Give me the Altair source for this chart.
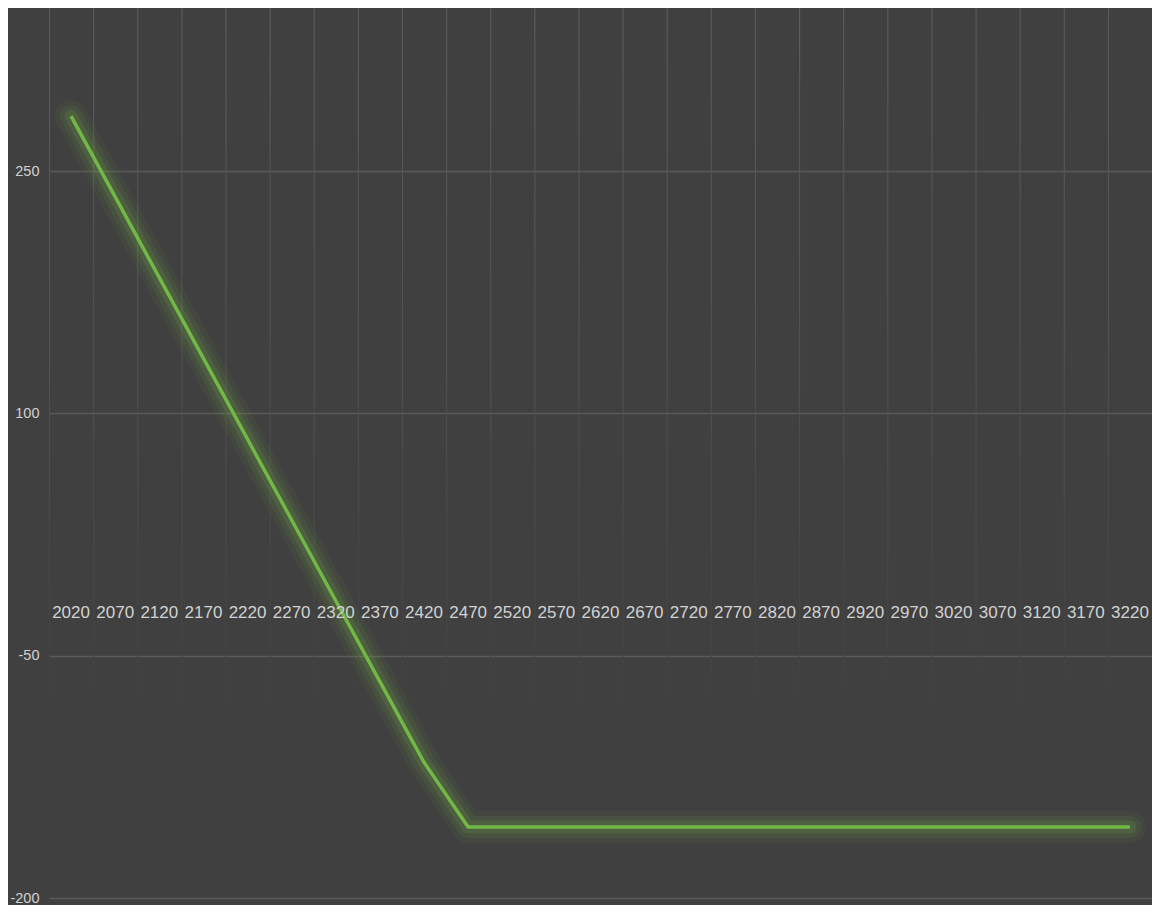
import altair as alt
import pandas as pd

# ---- data ----
strikes = [2020, 2070, 2120, 2170, 2220, 2270, 2320, 2370, 2420, 2470,
           2520, 2570, 2620, 2670, 2720, 2770, 2820, 2870, 2920, 2970,
           3020, 3070, 3120, 3170, 3220]
payoff = [284, 234, 184, 134, 84, 34, -16, -66, -116, -156,
          -156, -156, -156, -156, -156, -156, -156, -156, -156, -156,
          -156, -156, -156, -156, -156]
boundaries = [1995, 2045, 2095, 2145, 2195, 2245, 2295, 2345, 2395, 2445,
              2495, 2545, 2595, 2645, 2695, 2745, 2795, 2845, 2895, 2945,
              2995, 3045, 3095, 3145, 3195, 3245]
y_ticks = [250, 100, -50, -200]

X_DOMAIN = [1995, 3245]
Y_DOMAIN = [-204.3, 350.9]

BG = "#404040"
TXT = "#d2d2d2"
FONT = "Liberation Sans, Arial, sans-serif"

xs = alt.Scale(domain=X_DOMAIN, nice=False, zero=False)
ys = alt.Scale(domain=Y_DOMAIN, nice=False, zero=False)

Y_AXIS = alt.Axis(
    values=y_ticks,
    labelExpr="'' + datum.value",
    grid=True,
    gridColor="#5a5a5a",
    gridWidth=1.5,
    domain=False,
    ticks=False,
    labelPadding=10,
    labelFontSize=14.5,
    labelFont=FONT,
    labelColor=TXT,
    title=None,
)

df = pd.DataFrame({"strike": strikes, "pl": payoff})
grid_df = pd.DataFrame({"b": boundaries})

# vertical category gridlines that fade towards the bottom
vgrid = (
    alt.Chart(grid_df)
    .transform_calculate(b2="datum.b + 1.2", top=str(Y_DOMAIN[1]), bot="-83")
    .mark_rect(
        fill=alt.Gradient(
            gradient="linear",
            stops=[
                alt.GradientStop(color="#5c5c5c", offset=0),
                alt.GradientStop(color="#535353", offset=0.45),
                alt.GradientStop(color="#474747", offset=0.8),
                alt.GradientStop(color="#414141", offset=1),
            ],
            x1=0, x2=0, y1=0, y2=1,
        )
    )
    .encode(
        x=alt.X("b:Q", scale=xs, axis=None),
        x2="b2:Q",
        y=alt.Y("top:Q", scale=ys, axis=Y_AXIS),
        y2="bot:Q",
    )
)

line_base = alt.Chart(df).encode(
    x=alt.X("strike:Q", scale=xs, axis=None),
    y=alt.Y("pl:Q", scale=ys, axis=Y_AXIS),
)

glow = [
    line_base.mark_line(color="#7ac143", strokeWidth=w, opacity=o,
                        strokeCap="round", strokeJoin="round")
    for w, o in [(32, 0.06), (22, 0.09), (13, 0.14)]
]

main_line = line_base.mark_line(
    color="#72b846", strokeWidth=3.5, strokeCap="butt", strokeJoin="round"
)

labels = (
    alt.Chart(df)
    .transform_calculate(zero="0")
    .mark_text(dy=38, fontSize=17, font=FONT, color=TXT, align="center", baseline="middle")
    .encode(
        x=alt.X("strike:Q", scale=xs, axis=None),
        y=alt.Y("zero:Q", scale=ys, axis=Y_AXIS),
        text=alt.Text("strike:N"),
    )
)

chart = (
    alt.layer(vgrid, *glow, main_line, labels)
    .properties(
        width=1103,
        height=897,
        background=BG,
        padding={"left": 41, "top": 0, "right": 0, "bottom": 0},
        autosize=alt.AutoSizeParams(type="none"),
    )
    .configure_view(stroke=None, fill=BG)
)

chart.save("out.html", embed_options={"renderer": "svg", "actions": False})
